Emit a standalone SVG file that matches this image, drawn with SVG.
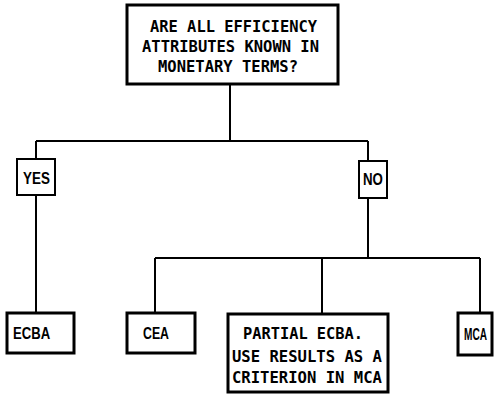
<svg xmlns="http://www.w3.org/2000/svg" width="495" height="394" viewBox="0 0 495 394">
<style>
.box{fill:#fff;stroke:#000;stroke-width:3}
.sbox{fill:#fff;stroke:#000;stroke-width:2}
.mono{font-family:"DejaVu Sans Mono","Liberation Mono",monospace;font-weight:bold;font-size:15.5px;fill:#000}
.sans{font-family:"Liberation Sans","DejaVu Sans",sans-serif;font-weight:bold;font-size:16px;fill:#000}
.conn{fill:none;stroke:#000;stroke-width:2}
</style>
<rect width="495" height="394" fill="#fff"/>
<g id="connectors" class="conn">
<path d="M230 84V141M36 141H368M36 141V159M368 141V161"/>
<path d="M36 195V313"/>
<path d="M368 198V258M155 258H480M155 258V313M322 258V314M480 258V313"/>
</g>
<g id="question">
<rect class="box" x="127" y="5" width="211" height="79"/>
<text class="mono" x="150" y="32" textLength="167" lengthAdjust="spacingAndGlyphs">ARE ALL EFFICIENCY</text>
<text class="mono" x="142" y="52" textLength="177" lengthAdjust="spacingAndGlyphs">ATTRIBUTES KNOWN IN</text>
<text class="mono" x="158" y="72" textLength="140" lengthAdjust="spacingAndGlyphs">MONETARY TERMS?</text>
</g>
<g id="yes">
<rect class="sbox" x="17" y="159" width="38" height="36"/>
<text class="sans" transform="translate(23 184) scale(0.84 1)">YES</text>
</g>
<g id="no">
<rect class="sbox" x="359" y="161" width="28" height="37"/>
<text class="sans" transform="translate(363 185) scale(0.83 1)">NO</text>
</g>
<g id="ecba">
<rect class="box" x="7" y="313" width="67" height="40"/>
<text class="sans" transform="translate(13 339) scale(0.82 1)">ECBA</text>
</g>
<g id="cea">
<rect class="box" x="127" y="313" width="68" height="40"/>
<text class="sans" transform="translate(143 339) scale(0.77 1)">CEA</text>
</g>
<g id="partial">
<rect class="box" x="228" y="314" width="160" height="78"/>
<text class="mono" x="243" y="339" textLength="120" lengthAdjust="spacingAndGlyphs">PARTIAL ECBA.</text>
<text class="mono" x="232" y="362" textLength="150" lengthAdjust="spacingAndGlyphs">USE RESULTS AS A</text>
<text class="mono" x="232" y="383" textLength="150" lengthAdjust="spacingAndGlyphs">CRITERION IN MCA</text>
</g>
<g id="mca">
<rect class="box" x="458" y="313" width="34" height="42"/>
<text class="sans" transform="translate(464 340) scale(0.63 1)">MCA</text>
</g>
</svg>
